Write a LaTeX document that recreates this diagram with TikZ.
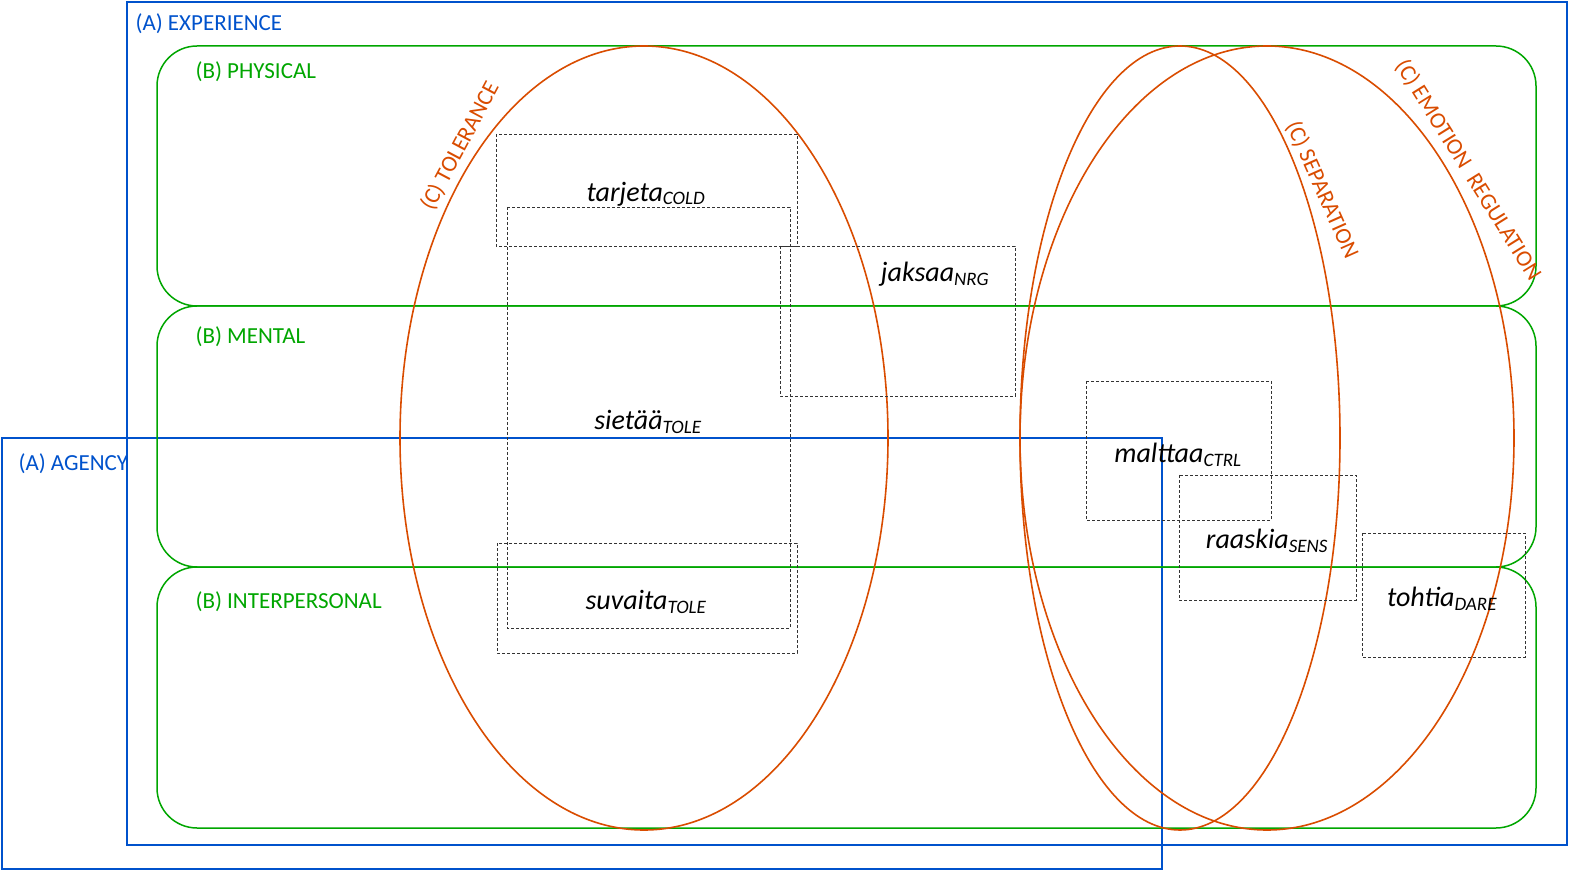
\documentclass[tikz,border=0pt]{standalone}
\usepackage{fontspec}
\setmainfont{Carlito}
\newcommand{\sbx}[1]{\textsubscript{\fontsize{19}{20}\selectfont\itshape #1}}
\begin{document}
\begin{tikzpicture}[x=1pt,y=-1pt,
  blu/.style={draw=blue!60!cyan!80!black,line width=1.6pt},
  grn/.style={draw=green!65!black,line width=1.5pt,rounded corners=40pt},
  org/.style={draw=orange!70!red!85!black,line width=1.6pt},
  dbox/.style={draw=black!80,densely dashed,line width=0.6pt},
  word/.style={font=\fontsize{28}{32}\selectfont\itshape},
  lab/.style={font=\fontsize{23}{27}\selectfont,anchor=west},
  bl/.style={lab,text=blue!60!cyan!80!black},
  gl/.style={lab,text=green!65!black},
  ol/.style={font=\fontsize{23}{27}\selectfont,text=orange!70!red!85!black}]
\useasboundingbox (0,0) rectangle (1575,874);
\draw[blu] (127,2) rectangle (1567,845);
\draw[blu] (2,438) rectangle (1162,869);
\draw[grn] (157,46) rectangle (1536,306);
\draw[grn] (157,306) rectangle (1536,567);
\draw[grn] (157,567) rectangle (1536,828);
\draw[org] (644,438) ellipse [x radius=244,y radius=392];
\draw[org] (1180,438) ellipse [x radius=160,y radius=392];
\draw[org] (1267,438) ellipse [x radius=247,y radius=392];
\draw[dbox] (496,134) rectangle (797,246);
\draw[dbox] (507,207) rectangle (790,628);
\draw[dbox] (780,246) rectangle (1015,396);
\draw[dbox] (497,543) rectangle (797,653);
\draw[dbox] (1086,381) rectangle (1271,520);
\draw[dbox] (1179,475) rectangle (1356,600);
\draw[dbox] (1362,533) rectangle (1525,657);
\node[word] (w1) at (646,194) {tarjeta\sbx{COLD}};
\node[word] (w2) at (935,274) {jaksaa\sbx{NRG}};
\node[word] (w3) at (648,422) {sietää\sbx{TOLE}};
\node[word] (w4) at (646,602) {suvaita\sbx{TOLE}};
\node[word] (w5) at (1178,455) {malttaa\sbx{CTRL}};
\node[word] (w6) at (1267,541) {raaskia\sbx{SENS}};
\node[word] (w7) at (1442,599) {tohtia\sbx{DARE}};
\node[bl] (l1) at (132,24) {(A) EXPERIENCE};
\node[bl] (l2) at (15,464) {(A) AGENCY};
\node[gl] (l3) at (192,72) {(B) PHYSICAL};
\node[gl] (l4) at (192,337) {(B) MENTAL};
\node[gl] (l5) at (192,602) {(B) INTERPERSONAL};
\node[ol,rotate=62] (c1) at (460,146) {(C) TOLERANCE};
\node[ol,rotate=-66] (c2) at (1322,190) {(C) SEPARATION};
\node[ol,rotate=-58] (c3) at (1468,170) {(C) EMOTION\ \ REGULATION};
\end{tikzpicture}
\end{document}
